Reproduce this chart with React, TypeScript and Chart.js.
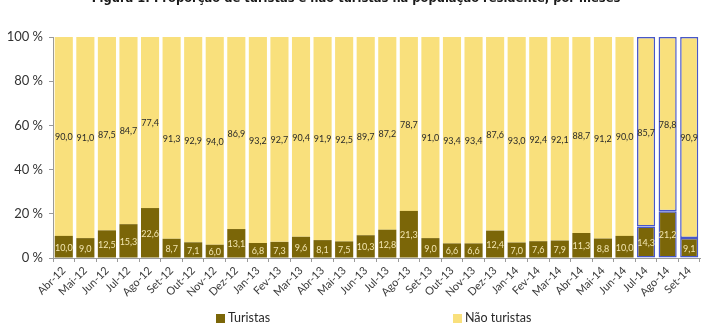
import React, { useEffect, useRef } from "react";
import { Chart, registerables } from "chart.js";

Chart.register(...registerables);

const months = [
  "Abr-12", "Mai-12", "Jun-12", "Jul-12", "Ago-12", "Set-12", "Out-12", "Nov-12", "Dez-12",
  "Jan-13", "Fev-13", "Mar-13", "Abr-13", "Mai-13", "Jun-13", "Jul-13", "Ago-13", "Set-13",
  "Out-13", "Nov-13", "Dez-13", "Jan-14", "Fev-14", "Mar-14", "Abr-14", "Mai-14", "Jun-14",
  "Jul-14", "Ago-14", "Set-14",
];

const turistas = [
  10.0, 9.0, 12.5, 15.3, 22.6, 8.7, 7.1, 6.0, 13.1, 6.8, 7.3, 9.6, 8.1, 7.5, 10.3,
  12.8, 21.3, 9.0, 6.6, 6.6, 12.4, 7.0, 7.6, 7.9, 11.3, 8.8, 10.0, 14.3, 21.2, 9.1,
];

const naoTuristas = [
  90.0, 91.0, 87.5, 84.7, 77.4, 91.3, 92.9, 94.0, 86.9, 93.2, 92.7, 90.4, 91.9, 92.5, 89.7,
  87.2, 78.7, 91.0, 93.4, 93.4, 87.6, 93.0, 92.4, 92.1, 88.7, 91.2, 90.0, 85.7, 78.8, 90.9,
];

// months flagged as provisional get a blue outline
const provisional = ["Jul-14", "Ago-14", "Set-14"];

const yTicks = [0, 20, 40, 60, 80, 100];

const TITLE = "Figura 1: Proporção de turistas e não turistas na população residente, por meses";
const DARK = "#7b6608";
const LIGHT = "#f9e07c";
const OUTLINE = "#4757c9";
const FONT = "Lato, 'DejaVu Sans', sans-serif";

const fmt = (v: number) => v.toFixed(1).replace(".", ",");

const valueLabels = {
  id: "valueLabels",
  afterDatasetsDraw(chart: any) {
    const ctx = chart.ctx;
    ctx.save();
    ctx.font = `9px ${FONT}`;
    ctx.textAlign = "center";
    ctx.textBaseline = "middle";
    chart.data.datasets.forEach((ds: any, di: number) => {
      const meta = chart.getDatasetMeta(di);
      meta.data.forEach((bar: any, i: number) => {
        const top = Math.min(bar.y, bar.base);
        const bottom = Math.max(bar.y, bar.base);
        ctx.fillStyle = di === 0 ? "#f3e6b0" : "#2a2a2a";
        ctx.fillText(fmt(ds.data[i]), bar.x, (top + bottom) / 2 + 1);
      });
    });
    ctx.restore();
  },
};

export default function App() {
  const canvasRef = useRef<HTMLCanvasElement | null>(null);

  useEffect(() => {
    const canvas = canvasRef.current;
    if (!canvas) return;
    const outline = months.map((m) => (provisional.includes(m) ? OUTLINE : "rgba(0,0,0,0)"));
    const outlineWidth = months.map((m) => (provisional.includes(m) ? 1.5 : 0));
    const chart = new Chart(canvas, {
      type: "bar",
      data: {
        labels: months,
        datasets: [
          {
            label: "Turistas",
            data: turistas,
            backgroundColor: DARK,
            borderColor: outline,
            borderWidth: outlineWidth,
            borderSkipped: false,
            barPercentage: 0.84,
            categoryPercentage: 1,
          },
          {
            label: "Não turistas",
            data: naoTuristas,
            backgroundColor: LIGHT,
            borderColor: outline,
            borderWidth: outlineWidth,
            borderSkipped: false,
            barPercentage: 0.84,
            categoryPercentage: 1,
          },
        ],
      },
      options: {
        responsive: false,
        animation: false,
        devicePixelRatio: 1,
        layout: { padding: { top: 37, right: 12, bottom: 0, left: 0 } },
        plugins: {
          legend: { display: false },
          title: { display: false },
          tooltip: { enabled: false },
        },
        scales: {
          x: {
            stacked: true,
            grid: {
              offset: true,
              drawOnChartArea: false,
              drawTicks: true,
              tickLength: 4,
              color: "#9a9a9a",
            },
            border: { display: true, color: "#9a9a9a" },
            ticks: {
              minRotation: 45,
              maxRotation: 45,
              autoSkip: false,
              color: "#3a3a3a",
              font: { family: FONT, size: 11 },
              padding: 2,
            },
            afterFit: (s: any) => {
              s.height = 68;
            },
          },
          y: {
            stacked: true,
            min: 0,
            max: 100,
            afterBuildTicks: (s: any) => {
              s.ticks = yTicks.map((v) => ({ value: v }));
            },
            grid: {
              drawOnChartArea: false,
              drawTicks: true,
              tickLength: 4,
              color: "#9a9a9a",
            },
            border: { display: true, color: "#9a9a9a" },
            ticks: {
              color: "#333333",
              font: { family: FONT, size: 13 },
              callback: (v: any) => `${v} %`,
              padding: 6,
            },
            afterFit: (s: any) => {
              s.width = 53;
            },
          },
        },
      },
      plugins: [valueLabels],
    });
    return () => chart.destroy();
  }, []);

  const legendItem = (left: number, color: string, text: string) => (
    <div
      style={{
        position: "absolute",
        left,
        top: 312,
        display: "flex",
        alignItems: "center",
        fontFamily: FONT,
        fontSize: 12.5,
        color: "#2a2a2a",
        lineHeight: "12px",
      }}
    >
      <span style={{ display: "inline-block", width: 9, height: 9, background: color, marginRight: 3 }} />
      {text}
    </div>
  );

  return (
    <div
      style={{
        position: "fixed",
        left: 0,
        top: 0,
        width: 712,
        height: 326,
        overflow: "hidden",
        background: "#ffffff",
      }}
    >
      <canvas ref={canvasRef} width={712} height={326} style={{ position: "absolute", left: 0, top: 0 }} />
      <div
        style={{
          position: "absolute",
          left: 0,
          width: 712,
          top: -9,
          textAlign: "center",
          fontFamily: "'DejaVu Sans', sans-serif",
          fontWeight: "bold",
          fontSize: 11.5,
          lineHeight: "14px",
          color: "#1a1a1a",
          whiteSpace: "nowrap",
        }}
      >
        {TITLE}
      </div>
      {legendItem(216, DARK, "Turistas")}
      {legendItem(453, LIGHT, "Não turistas")}
    </div>
  );
}
